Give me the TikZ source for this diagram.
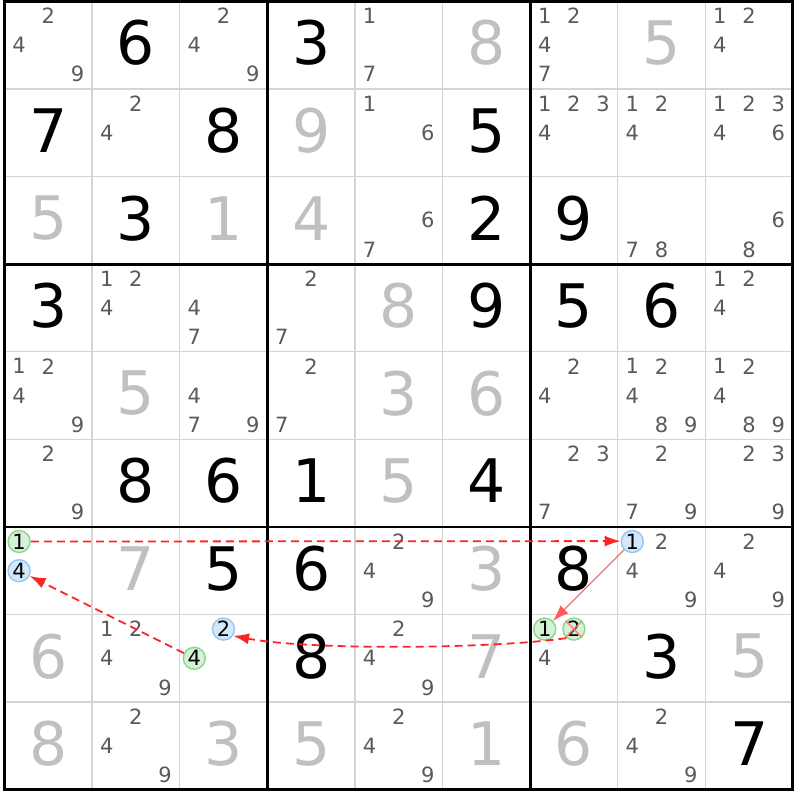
\documentclass[tikz,border=0pt]{standalone}
\usepackage{fontspec}
\setmainfont{DejaVu Sans}
\usetikzlibrary{arrows.meta}
\definecolor{candc}{HTML}{5A5A5A}
\definecolor{solvc}{HTML}{C0C0C0}
\definecolor{thinc}{HTML}{D4D4D4}
\definecolor{arrc}{HTML}{FF2424}
\definecolor{arrlc}{HTML}{FF5A5A}
\definecolor{gfillc}{HTML}{D6F2D6}
\definecolor{glinec}{HTML}{86D986}
\definecolor{bfillc}{HTML}{D4E8FC}
\definecolor{blinec}{HTML}{94C6F2}
\definecolor{xcolc}{HTML}{FF7A7A}
\newcommand\gv[3]{\node[givenst] (d#1#2) at (#2+0.5,#1+0.5) {#3};}
\newcommand\sv[3]{\node[solvedst] (d#1#2) at (#2+0.5,#1+0.5) {#3};}
\newcommand\cd[3]{\foreach \k in {#3}{%
  \pgfmathtruncatemacro\kx{mod(\k-1,3)}%
  \pgfmathtruncatemacro\ky{div(\k-1,3)}%
  \node[candst] (c#1#2\k) at ({#2+(2*\kx+1)/6},{#1+(2*\ky+1)/6}) {\k};}}
\begin{document}
\begin{tikzpicture}[x=87.6pt,y=-87.6pt,
  givenst/.style={text=black,font=\fontsize{60}{60}\selectfont,inner sep=0pt,yshift=2pt},
  solvedst/.style={text=solvc,font=\fontsize{60}{60}\selectfont,inner sep=0pt,yshift=2pt},
  candst/.style={text=candc,font=\fontsize{21}{21}\selectfont,inner sep=0pt},
  gcirc/.style={circle,draw=glinec,fill=gfillc,line width=1.4pt,minimum size=22pt,inner sep=0pt,text=black,font=\fontsize{21}{21}\selectfont},
  bcirc/.style={circle,draw=blinec,fill=bfillc,line width=1.4pt,minimum size=22pt,inner sep=0pt,text=black,font=\fontsize{21}{21}\selectfont},
  dlink/.style={draw=arrc,line width=1.8pt,dash pattern=on 8pt off 5pt,-{Latex[length=16pt,width=11pt]}},
  slink/.style={draw=arrlc,line width=1.1pt,-{Latex[length=16pt,width=11pt]}},
  xmark/.style={draw=xcolc,line width=1.6pt,opacity=0.85}]
\useasboundingbox[fill=white] (-4.5pt,1.3pt) rectangle (795.5pt,-798.7pt);
% thin grid
\foreach \i in {1,2,4,5,7,8}{
  \draw[thinc,line width=1.5pt] (\i,0) -- (\i,9);
  \draw[thinc,line width=1.5pt] (0,\i) -- (9,\i);}
% thick grid
\foreach \i in {3,6}{
  \draw[black,line width=2.8pt] (\i,0) -- (\i,9);
  \draw[black,line width=2.8pt] (0,\i) -- (9,\i);}
\draw[black,line width=3pt] (0,0) rectangle (9,9);
% row 0
\cd{0}{0}{2,4,9} \gv{0}{1}{6} \cd{0}{2}{2,4,9} \gv{0}{3}{3} \cd{0}{4}{1,7}
\sv{0}{5}{8} \cd{0}{6}{1,2,4,7} \sv{0}{7}{5} \cd{0}{8}{1,2,4}
% row 1
\gv{1}{0}{7} \cd{1}{1}{2,4} \gv{1}{2}{8} \sv{1}{3}{9} \cd{1}{4}{1,6}
\gv{1}{5}{5} \cd{1}{6}{1,2,3,4} \cd{1}{7}{1,2,4} \cd{1}{8}{1,2,3,4,6}
% row 2
\sv{2}{0}{5} \gv{2}{1}{3} \sv{2}{2}{1} \sv{2}{3}{4} \cd{2}{4}{6,7}
\gv{2}{5}{2} \gv{2}{6}{9} \cd{2}{7}{7,8} \cd{2}{8}{6,8}
% row 3
\gv{3}{0}{3} \cd{3}{1}{1,2,4} \cd{3}{2}{4,7} \cd{3}{3}{2,7} \sv{3}{4}{8}
\gv{3}{5}{9} \gv{3}{6}{5} \gv{3}{7}{6} \cd{3}{8}{1,2,4}
% row 4
\cd{4}{0}{1,2,4,9} \sv{4}{1}{5} \cd{4}{2}{4,7,9} \cd{4}{3}{2,7} \sv{4}{4}{3}
\sv{4}{5}{6} \cd{4}{6}{2,4} \cd{4}{7}{1,2,4,8,9} \cd{4}{8}{1,2,4,8,9}
% row 5
\cd{5}{0}{2,9} \gv{5}{1}{8} \gv{5}{2}{6} \gv{5}{3}{1} \sv{5}{4}{5}
\gv{5}{5}{4} \cd{5}{6}{2,3,7} \cd{5}{7}{2,7,9} \cd{5}{8}{2,3,9}
% row 6
\sv{6}{1}{7} \gv{6}{2}{5} \gv{6}{3}{6} \cd{6}{4}{2,4,9}
\sv{6}{5}{3} \gv{6}{6}{8} \cd{6}{7}{2,4,9} \cd{6}{8}{2,4,9}
% row 7
\sv{7}{0}{6} \cd{7}{1}{1,2,4,9} \gv{7}{3}{8} \cd{7}{4}{2,4,9}
\sv{7}{5}{7} \cd{7}{6}{4} \gv{7}{7}{3} \sv{7}{8}{5}
% row 8
\sv{8}{0}{8} \cd{8}{1}{2,4,9} \sv{8}{2}{3} \sv{8}{3}{5} \cd{8}{4}{2,4,9}
\sv{8}{5}{1} \sv{8}{6}{6} \cd{8}{7}{2,4,9} \gv{8}{8}{7}
% highlighted candidates
\node[gcirc] (c601) at ({1/6},{6+1/6}) {1};
\node[bcirc] (c604) at ({1/6},6.5) {4};
\node[bcirc] (c671) at ({7+1/6},{6+1/6}) {1};
\node[bcirc] (c722) at (2.5,{7+1/6}) {2};
\node[gcirc] (c724) at ({2+1/6},7.5) {4};
\node[gcirc] (c761) at ({6+1/6},{7+1/6}) {1};
\node[gcirc] (c762) at (6.5,{7+1/6}) {2};
\draw[xmark] (c762.north west) -- (c762.south east);
\draw[xmark] (c762.north east) -- (c762.south west);
% links
\draw[dlink] (c601.east) -- ([yshift=0.4pt]c671.west);
\draw[slink] (c671) -- (c761);
\draw[dlink] (c762.230) .. controls +(-0.8,0.12) and +(0.9,0.17) .. (c722.-35);
\draw[dlink] (c724) -- (c604);
\end{tikzpicture}
\end{document}
